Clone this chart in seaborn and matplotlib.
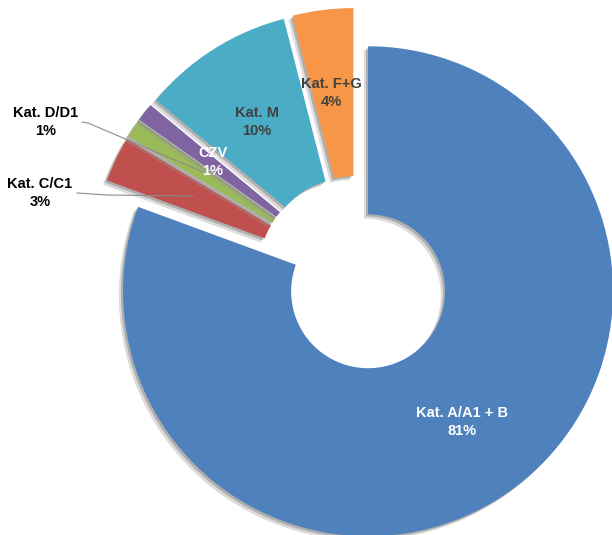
import matplotlib
matplotlib.use('Agg')
import matplotlib.pyplot as plt
import matplotlib.patheffects as pe
import seaborn as sns

# driving licence categories, share in %
categories = ['Kat. A/A1 + B', 'Kat. C/C1', 'Kat. D/D1', 'CZV', 'Kat. M', 'Kat. F+G']
shares = [80.6, 3.0, 1.2, 1.2, 10.0, 4.0]
pct_labels = ['81%', '3%', '1%', '1%', '10%', '4%']
colors = ['#4F81BD', '#C0504D', '#9BBB59', '#8064A2', '#4BACC6', '#F79646']

sns.set_theme(style='white')
plt.rcParams['font.family'] = ['Liberation Sans', 'DejaVu Sans']

fig = plt.figure(figsize=(6.12, 5.35), dpi=100)
ax = fig.add_axes([0, 0, 1, 1])

R = 245.0  # pixels per unit radius
cx, cy = 356, 274  # pie centre in pixels (from top-left)


def px(x, y):
    # pixel position (from top-left) -> data coords
    return (x - cx) / R, (cy - y) / R


# soft shadow to the lower left, like the Excel original
shadow = [pe.SimplePatchShadow(offset=(-3, -3), shadow_rgbFace='#9a9a9a', alpha=0.35),
          pe.SimplePatchShadow(offset=(-1.5, -1.5), shadow_rgbFace='#7a7a7a', alpha=0.45),
          pe.Normal()]

wedges, _ = ax.pie(shares,
                   colors=colors,
                   startangle=90,
                   counterclock=False,
                   explode=[0.086] * len(shares),
                   wedgeprops={'width': 0.686, 'linewidth': 0,
                               'path_effects': shadow})

ax.set_xlim(-cx / R, (612 - cx) / R)
ax.set_ylim(-(535 - cy) / R, cy / R)
ax.set_aspect('equal')
ax.axis('off')

txt = dict(fontsize=10.5, fontweight='bold', ha='center', va='center', linespacing=1.4)

# labels inside the slices
ax.text(*px(462, 422), f'{categories[0]}\n{pct_labels[0]}', color='white', **txt)
ax.text(*px(331, 93), f'{categories[5]}\n{pct_labels[5]}', color='#404040', **txt)
ax.text(*px(257, 122), f'{categories[4]}\n{pct_labels[4]}', color='#404040', **txt)
ax.text(*px(213, 162), f'{categories[3]}\n{pct_labels[3]}', color='white', **txt)

# outside labels with leader lines
ax.text(*px(46, 122), f'{categories[2]}\n{pct_labels[2]}', color='black', **txt)
ax.text(*px(40, 193), f'{categories[1]}\n{pct_labels[1]}', color='black', **txt)

for pts in ([(82, 122), (88, 123), (203, 172)],
            [(77, 193), (107, 195), (193, 196)]):
    xs, ys = zip(*[px(x, y) for x, y in pts])
    ax.plot(xs, ys, color='#8c8c8c', linewidth=0.8)

fig.savefig('out.png', dpi=100)
